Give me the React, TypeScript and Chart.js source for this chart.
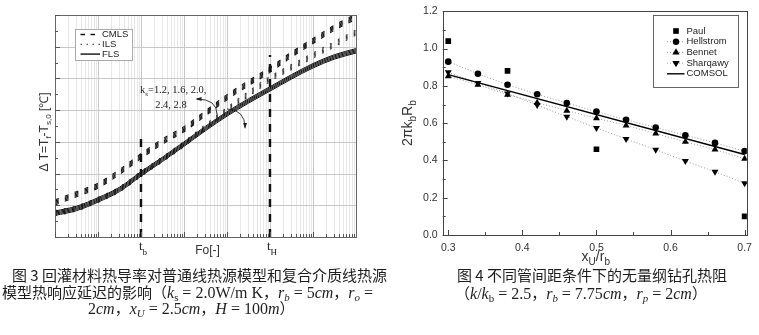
import React, { useEffect, useRef } from "react";
import { Chart, registerables } from "chart.js";

Chart.register(...registerables);

// ---------------- Fig. 3 (left) data ----------------
// Fourier number sample points (half-decade steps)
const FO = [1, 3.162, 10, 31.62, 100, 316.2, 1000, 3162, 10000, 31623, 100000, 316228, 1000000, 3162278, 10000000];
const KS = ["1.2", "1.6", "2.0", "2.4", "2.8"];

const CMLS_12 = [1.17, 1.43, 1.70, 2.13, 2.63, 3.09, 3.48, 3.98, 4.49, 4.93, 5.35, 5.83, 6.26, 6.68, 7.03];
const CMLS_16 = [1.13, 1.39, 1.66, 2.09, 2.59, 3.05, 3.44, 3.94, 4.45, 4.89, 5.31, 5.79, 6.22, 6.64, 6.99];
const CMLS_20 = [1.09, 1.35, 1.62, 2.05, 2.55, 3.01, 3.40, 3.90, 4.41, 4.85, 5.27, 5.75, 6.18, 6.60, 6.95];
const CMLS_24 = [1.05, 1.31, 1.58, 2.01, 2.51, 2.97, 3.36, 3.86, 4.37, 4.81, 5.23, 5.71, 6.14, 6.56, 6.91];
const CMLS_28 = [1.01, 1.27, 1.54, 1.97, 2.47, 2.93, 3.32, 3.82, 4.33, 4.77, 5.19, 5.67, 6.10, 6.52, 6.87];

const ILS_12 = [0.83, 0.98, 1.25, 1.58, 2.07, 2.53, 3.01, 3.55, 4.08, 4.59, 5.06, 5.44, 5.80, 6.16, 6.53];
const ILS_16 = [0.79, 0.94, 1.21, 1.54, 2.03, 2.49, 2.97, 3.51, 4.04, 4.55, 5.02, 5.40, 5.76, 6.12, 6.49];
const ILS_20 = [0.75, 0.90, 1.17, 1.50, 1.99, 2.45, 2.93, 3.47, 4.00, 4.51, 4.98, 5.36, 5.72, 6.08, 6.45];
const ILS_24 = [0.71, 0.86, 1.13, 1.46, 1.95, 2.41, 2.89, 3.43, 3.96, 4.47, 4.94, 5.32, 5.68, 6.04, 6.41];
const ILS_28 = [0.67, 0.82, 1.09, 1.42, 1.91, 2.37, 2.85, 3.39, 3.92, 4.43, 4.90, 5.28, 5.64, 6.00, 6.37];

const FLS_12 = [0.82, 0.97, 1.24, 1.57, 2.06, 2.52, 3.00, 3.49, 3.95, 4.36, 4.74, 5.12, 5.47, 5.75, 5.94];
const FLS_16 = [0.785, 0.935, 1.205, 1.535, 2.025, 2.485, 2.965, 3.455, 3.915, 4.325, 4.705, 5.085, 5.435, 5.715, 5.905];
const FLS_20 = [0.75, 0.90, 1.17, 1.50, 1.99, 2.45, 2.93, 3.42, 3.88, 4.29, 4.67, 5.05, 5.40, 5.68, 5.87];
const FLS_24 = [0.715, 0.865, 1.135, 1.465, 1.955, 2.415, 2.895, 3.385, 3.845, 4.255, 4.635, 5.015, 5.365, 5.645, 5.835];
const FLS_28 = [0.68, 0.83, 1.10, 1.43, 1.92, 2.38, 2.86, 3.35, 3.81, 4.22, 4.60, 4.98, 5.33, 5.61, 5.80];

const CMLS = [CMLS_12, CMLS_16, CMLS_20, CMLS_24, CMLS_28];
const ILS = [ILS_12, ILS_16, ILS_20, ILS_24, ILS_28];
const FLS = [FLS_12, FLS_16, FLS_20, FLS_24, FLS_28];

const FO_B = 100; // t_b
const FO_H = 100000; // t_H
const TB_LINE = [0, 3.16];
const TH_LINE = [0, 5.74];
const LEFT_Y_MAX = 7;

// ---------------- Fig. 4 (right) data ----------------
const XR = [0.30, 0.34, 0.38, 0.42, 0.46, 0.50, 0.54, 0.58, 0.62, 0.66, 0.70];
const PAUL_X = [0.30, 0.38, 0.50, 0.70];
const PAUL = [1.04, 0.88, 0.46, 0.10];
const HELLSTROM = [0.93, 0.865, 0.806, 0.755, 0.708, 0.662, 0.618, 0.577, 0.535, 0.494, 0.45];
const BENNET = [0.852, 0.806, 0.753, 0.71, 0.667, 0.626, 0.588, 0.544, 0.50, 0.459, 0.409];
const SHARQAWY = [0.873, 0.815, 0.759, 0.697, 0.635, 0.574, 0.515, 0.457, 0.397, 0.339, 0.277];
const COMSOL_X = [0.30, 0.70];
const COMSOL = [0.86, 0.432];
const XR_TICKS = [0.3, 0.4, 0.5, 0.6, 0.7];
const YR_TICKS = [0.0, 0.2, 0.4, 0.6, 0.8, 1.0, 1.2];

const SANS = '"Liberation Sans", Arial, sans-serif';
const SERIF = '"Liberation Serif", "Times New Roman", serif';
Chart.defaults.font.family = SANS;

type Part = { t: string; sub?: boolean; italic?: boolean };

function drawRich(
  ctx: CanvasRenderingContext2D,
  parts: Part[],
  x: number,
  y: number,
  size: number,
  family: string,
  align: "left" | "center",
  color: string,
  rotate = 0,
  subShift = 0.35
) {
  ctx.save();
  ctx.translate(x, y);
  if (rotate) ctx.rotate(rotate);
  const fontFor = (p: Part) =>
    `${p.italic ? "italic " : ""}${p.sub ? Math.round(size * 0.7) : size}px ${family}`;
  let total = 0;
  for (const p of parts) {
    ctx.font = fontFor(p);
    total += ctx.measureText(p.t).width;
  }
  let cx = align === "center" ? -total / 2 : 0;
  ctx.textBaseline = "middle";
  ctx.textAlign = "left";
  ctx.fillStyle = color;
  for (const p of parts) {
    ctx.font = fontFor(p);
    ctx.fillText(p.t, cx, p.sub ? size * subShift : 0);
    cx += ctx.measureText(p.t).width;
  }
  ctx.restore();
}

function seg(ctx: CanvasRenderingContext2D, x1: number, y1: number, x2: number, y2: number, color: string, w = 1, dash: number[] = []) {
  ctx.save();
  ctx.strokeStyle = color;
  ctx.lineWidth = w;
  ctx.setLineDash(dash);
  ctx.beginPath();
  ctx.moveTo(x1, y1);
  ctx.lineTo(x2, y2);
  ctx.stroke();
  ctx.restore();
}

function curvedArrow(ctx: CanvasRenderingContext2D, s: number[], c: number[], e: number[]) {
  ctx.save();
  ctx.strokeStyle = "#222";
  ctx.fillStyle = "#222";
  ctx.lineWidth = 0.9;
  ctx.beginPath();
  ctx.moveTo(s[0], s[1]);
  ctx.quadraticCurveTo(c[0], c[1], e[0], e[1]);
  ctx.stroke();
  const ang = Math.atan2(e[1] - c[1], e[0] - c[0]);
  const L = 5;
  ctx.beginPath();
  ctx.moveTo(e[0] + Math.cos(ang) * 1.5, e[1] + Math.sin(ang) * 1.5);
  ctx.lineTo(e[0] - Math.cos(ang - 0.4) * L, e[1] - Math.sin(ang - 0.4) * L);
  ctx.lineTo(e[0] - Math.cos(ang + 0.4) * L, e[1] - Math.sin(ang + 0.4) * L);
  ctx.closePath();
  ctx.fill();
  ctx.restore();
}

function marker(ctx: CanvasRenderingContext2D, kind: string, x: number, y: number, r: number) {
  ctx.save();
  ctx.fillStyle = "#000";
  ctx.beginPath();
  if (kind === "rect") {
    const s = r * Math.SQRT1_2;
    ctx.rect(x - s, y - s, 2 * s, 2 * s);
  } else if (kind === "circle") {
    ctx.arc(x, y, r, 0, Math.PI * 2);
  } else if (kind === "up") {
    ctx.moveTo(x, y - r);
    ctx.lineTo(x + r * 0.866, y + r * 0.5);
    ctx.lineTo(x - r * 0.866, y + r * 0.5);
  } else {
    ctx.moveTo(x, y + r);
    ctx.lineTo(x + r * 0.866, y - r * 0.5);
    ctx.lineTo(x - r * 0.866, y - r * 0.5);
  }
  ctx.closePath();
  ctx.fill();
  ctx.restore();
}

const leftPlugin = {
  id: "leftDeco",
  beforeDatasetsDraw(chart: any) {
    const { ctx, chartArea: a, scales } = chart;
    const xs = scales.x;
    const ys = scales.y;
    for (let e = 0; e < 7; e++) {
      for (let m = 2; m <= 9; m++) {
        const px = Math.round(xs.getPixelForValue(m * Math.pow(10, e))) + 0.5;
        seg(ctx, px, a.top, px, a.bottom, "#e8e8e8");
      }
    }
    for (let e = 1; e < 7; e++) {
      const px = Math.round(xs.getPixelForValue(Math.pow(10, e))) + 0.5;
      seg(ctx, px, a.top, px, a.bottom, "#c8c8c8");
    }
    for (let v = 1; v < LEFT_Y_MAX; v++) {
      const py = Math.round(ys.getPixelForValue(v)) + 0.5;
      seg(ctx, a.left, py, a.right, py, "#c8c8c8");
    }
  },
  afterDatasetsDraw(chart: any) {
    const { ctx, chartArea: a, scales } = chart;
    const xs = scales.x;
    const ys = scales.y;
    // frame
    ctx.save();
    ctx.strokeStyle = "#666";
    ctx.lineWidth = 1;
    ctx.strokeRect(Math.round(a.left) + 0.5, Math.round(a.top) + 0.5, Math.round(a.right - a.left), Math.round(a.bottom - a.top));
    ctx.restore();
    // inside ticks
    for (let e = 0; e < 7; e++) {
      for (let m = 1; m <= 9; m++) {
        const px = Math.round(xs.getPixelForValue(m * Math.pow(10, e))) + 0.5;
        seg(ctx, px, a.bottom, px, a.bottom - (m === 1 ? 5 : 3), "#555");
      }
    }
    for (let v = 0; v <= LEFT_Y_MAX; v += 0.5) {
      const py = Math.round(ys.getPixelForValue(v)) + 0.5;
      seg(ctx, a.left, py, a.left + (v % 1 === 0 ? 5 : 3), py, "#555");
    }
    // tick labels t_b, t_H
    drawRich(ctx, [{ t: "t" }, { t: "b", sub: true }], xs.getPixelForValue(FO_B) + 2, a.bottom + 10, 13, SERIF, "center", "#222", 0, 0.45);
    drawRich(ctx, [{ t: "t" }, { t: "H", sub: true }], xs.getPixelForValue(FO_H) + 2, a.bottom + 10, 13, SERIF, "center", "#222", 0, 0.45);
    // axis titles
    drawRich(ctx, [{ t: "Fo[-]" }], (a.left + a.right) / 2 + 2, a.bottom + 14, 12, SANS, "center", "#333");
    drawRich(
      ctx,
      [{ t: "\u0394 T=T" }, { t: "f", sub: true }, { t: "-T" }, { t: "s,0", sub: true }, { t: " [\u2103]" }],
      a.left - 10,
      (a.top + a.bottom) / 2 + 6,
      12,
      SANS,
      "center",
      "#333",
      -Math.PI / 2
    );
    // legend
    ctx.save();
    ctx.fillStyle = "#fff";
    ctx.fillRect(75.5, 29.5, 57, 31);
    ctx.strokeStyle = "#aaa";
    ctx.lineWidth = 1;
    ctx.strokeRect(75.5, 29.5, 57, 31);
    ctx.restore();
    const lg = [
      { label: "CMLS", dash: [4.5, 5.5], color: "#111", w: 1.3 },
      { label: "ILS", dash: [1.5, 4.5], color: "#555", w: 1.2 },
      { label: "FLS", dash: [], color: "#111", w: 1.4 },
    ];
    lg.forEach((it, i) => {
      const y = 34.5 + i * 9.8;
      seg(ctx, 80.5, y, 100, y, it.color, it.w, it.dash);
      ctx.save();
      ctx.font = `9.5px ${SANS}`;
      ctx.fillStyle = "#222";
      ctx.textBaseline = "middle";
      ctx.fillText(it.label, 102, y);
      ctx.restore();
    });
    // annotation
    const P = (lg10: number, v: number) => [xs.getPixelForValue(Math.pow(10, lg10)), ys.getPixelForValue(v)];
    const t1 = P(1.977, 4.62);
    const t2 = P(2.33, 4.15);
    drawRich(ctx, [{ t: "k" }, { t: "s", sub: true }, { t: "=" + KS.slice(0, 3).join(", ") + "," }], t1[0], t1[1], 10.5, SERIF, "left", "#222");
    drawRich(ctx, [{ t: KS.slice(3).join(", ") }], t2[0], t2[1], 10.5, SERIF, "left", "#222");
    curvedArrow(ctx, P(3.77, 3.85), P(3.77, 4.35), P(3.30, 4.35));
    curvedArrow(ctx, P(4.0, 4.04), P(4.42, 4.01), P(4.42, 3.45));
  },
};

const rightPlugin = {
  id: "rightDeco",
  afterDatasetsDraw(chart: any) {
    const { ctx, chartArea: a, scales } = chart;
    const xs = scales.x;
    const ys = scales.y;
    ctx.save();
    ctx.strokeStyle = "#444";
    ctx.lineWidth = 1;
    ctx.strokeRect(Math.round(a.left) + 0.5, Math.round(a.top) + 0.5, Math.round(a.right - a.left), Math.round(a.bottom - a.top));
    ctx.restore();
    for (let i = 0; i <= 8; i++) {
      const v = 0.3 + i * 0.05;
      const px = Math.round(xs.getPixelForValue(v)) + 0.5;
      seg(ctx, px, a.bottom, px, a.bottom - (i % 2 === 0 ? 5 : 3), "#444");
    }
    for (let i = 0; i <= 12; i++) {
      const v = i * 0.1;
      const py = Math.round(ys.getPixelForValue(v)) + 0.5;
      seg(ctx, a.left, py, a.left + (i % 2 === 0 ? 5 : 3), py, "#444");
    }
    drawRich(ctx, [{ t: "2\u03C0k" }, { t: "b", sub: true }, { t: "R" }, { t: "b", sub: true }], 28, (a.top + a.bottom) / 2, 14, SANS, "center", "#333", -Math.PI / 2);
    drawRich(ctx, [{ t: "x" }, { t: "U", sub: true }, { t: "/r" }, { t: "b", sub: true }], (a.left + a.right) / 2 + 1, 257, 14, SANS, "center", "#333");
    // legend
    ctx.save();
    ctx.fillStyle = "#fff";
    ctx.fillRect(273.5, 15.5, 85, 72);
    ctx.strokeStyle = "#666";
    ctx.strokeRect(273.5, 15.5, 85, 72);
    ctx.restore();
    const items = [
      { label: "Paul", kind: "rect", line: "none" },
      { label: "Hellstrom", kind: "circle", line: "dot" },
      { label: "Bennet", kind: "up", line: "dot" },
      { label: "Sharqawy", kind: "down", line: "dot" },
      { label: "COMSOL", kind: "none", line: "solid" },
    ];
    items.forEach((it, i) => {
      const y = 31 + i * 10.7;
      if (it.line === "dot") seg(ctx, 287, y, 305, y, "#999", 1, [1, 2]);
      if (it.line === "solid") seg(ctx, 287, y, 304.5, y, "#000", 1.4);
      if (it.kind === "rect") marker(ctx, "rect", 296, y, 4);
      if (it.kind === "circle") marker(ctx, "circle", 296, y, 3.2);
      if (it.kind === "up") marker(ctx, "up", 296, y, 4.2);
      if (it.kind === "down") marker(ctx, "down", 296, y, 4.2);
      ctx.save();
      ctx.font = `9.5px ${SANS}`;
      ctx.fillStyle = "#222";
      ctx.textBaseline = "middle";
      ctx.fillText(it.label, 306.5, y);
      ctx.restore();
    });
  },
};

function leftConfig(): any {
  const curve = (vals: number[], style: any, label: string) => ({
    label,
    data: FO.map((x, i) => ({ x, y: vals[i] })),
    pointRadius: 0,
    fill: false,
    cubicInterpolationMode: "monotone",
    ...style,
  });
  const datasets: any[] = [];
  FLS.forEach((v, i) => datasets.push(curve(v, { borderColor: "#111", borderWidth: 1.0 }, `FLS ks=${KS[i]}`)));
  ILS.forEach((v, i) => datasets.push(curve(v, { borderColor: "#333", borderWidth: 1.1, borderDash: [2, 7] }, `ILS ks=${KS[i]}`)));
  CMLS.forEach((v, i) => datasets.push(curve(v, { borderColor: "#111", borderWidth: 1.1, borderDash: [4, 6.5] }, `CMLS ks=${KS[i]}`)));
  datasets.push({
    label: "t_b",
    data: TB_LINE.map((y) => ({ x: FO_B, y })),
    borderColor: "#111",
    borderWidth: 2.4,
    borderDash: [8, 7],
    pointRadius: 0,
  });
  datasets.push({
    label: "t_H",
    data: TH_LINE.map((y) => ({ x: FO_H, y })),
    borderColor: "#111",
    borderWidth: 2.4,
    borderDash: [8, 7],
    pointRadius: 0,
  });
  return {
    type: "line",
    data: { datasets },
    options: {
      responsive: false,
      animation: false,
      layout: { padding: { top: 15, right: 24, left: 0, bottom: 0 } },
      plugins: { legend: { display: false }, tooltip: { enabled: false } },
      scales: {
        x: {
          type: "logarithmic",
          min: FO[0],
          max: FO[FO.length - 1],
          grid: { display: false, drawTicks: false },
          border: { display: false },
          ticks: { display: false },
          afterFit: (s: any) => {
            s.height = 28;
          },
        },
        y: {
          type: "linear",
          min: 0,
          max: LEFT_Y_MAX,
          grid: { display: false, drawTicks: false },
          border: { display: false },
          ticks: { display: false },
          afterFit: (s: any) => {
            s.width = 55;
          },
        },
      },
    },
    plugins: [leftPlugin],
  };
}

function rightConfig(): any {
  const pts = (xs: number[], ys: number[]) => xs.map((x, i) => ({ x, y: ys[i] }));
  const dotted = { borderColor: "#9a9a9a", borderWidth: 1, borderDash: [1, 2] };
  const mk = { pointBackgroundColor: "#000", pointBorderColor: "#000", pointBorderWidth: 0 };
  return {
    type: "line",
    data: {
      datasets: [
        { label: "COMSOL", data: pts(COMSOL_X, COMSOL), borderColor: "#000", borderWidth: 1.4, pointRadius: 0 },
        { label: "Hellstrom", data: pts(XR, HELLSTROM), ...dotted, ...mk, pointStyle: "circle", pointRadius: 3.3 },
        { label: "Bennet", data: pts(XR, BENNET), ...dotted, ...mk, pointStyle: "triangle", pointRadius: 4.0 },
        { label: "Sharqawy", data: pts(XR, SHARQAWY), ...dotted, ...mk, pointStyle: "triangle", pointRotation: 180, pointRadius: 4.0 },
        { label: "Paul", data: pts(PAUL_X, PAUL), showLine: false, ...mk, pointStyle: "rect", pointRadius: 4.0 },
      ],
    },
    options: {
      responsive: false,
      animation: false,
      layout: { padding: { top: 8, right: 10, left: 0, bottom: 0 } },
      plugins: { legend: { display: false }, tooltip: { enabled: false } },
      scales: {
        x: {
          type: "linear",
          min: 0.2925,
          max: 0.703,
          afterBuildTicks: (s: any) => {
            s.ticks = XR_TICKS.map((v) => ({ value: v }));
          },
          ticks: {
            callback: (v: any) => Number(v).toFixed(1),
            font: { family: SANS, size: 10.5 },
            color: "#333",
            padding: 7,
            maxRotation: 0,
            autoSkip: false,
          },
          grid: { display: false, drawTicks: false },
          border: { display: false },
          afterFit: (s: any) => {
            s.height = 30;
          },
        },
        y: {
          type: "linear",
          min: 0,
          max: 1.2,
          afterBuildTicks: (s: any) => {
            s.ticks = YR_TICKS.map((v) => ({ value: v }));
          },
          ticks: {
            callback: (v: any) => Number(v).toFixed(1),
            font: { family: SANS, size: 10.5 },
            color: "#333",
            padding: 5,
            autoSkip: false,
          },
          grid: { display: false, drawTicks: false },
          border: { display: false },
          afterFit: (s: any) => {
            s.width = 62.7;
          },
        },
      },
    },
    plugins: [rightPlugin],
  };
}

const CJK = '"Noto Sans CJK SC", "Noto Sans CJK JP", sans-serif';
const MATH = '"Liberation Serif", "DejaVu Serif", serif';

const Sub = ({ children }: { children: React.ReactNode }) => (
  <span style={{ fontSize: "0.68em", position: "relative", top: "0.3em" }}>{children}</span>
);
const M = ({ children }: { children: React.ReactNode }) => (
  <span style={{ fontFamily: MATH, fontSize: 16 }}>{children}</span>
);

const capStyle = (left: number, top: number): React.CSSProperties => ({
  position: "absolute",
  left,
  top,
  whiteSpace: "nowrap",
  fontFamily: CJK,
  fontSize: 15,
  lineHeight: "18px",
  color: "#1e1e1e",
});

export default function App() {
  const leftRef = useRef<HTMLCanvasElement>(null);
  const rightRef = useRef<HTMLCanvasElement>(null);

  useEffect(() => {
    const c1 = new Chart(leftRef.current as HTMLCanvasElement, leftConfig());
    const c2 = new Chart(rightRef.current as HTMLCanvasElement, rightConfig());
    return () => {
      c1.destroy();
      c2.destroy();
    };
  }, []);

  return (
    <div style={{ position: "absolute", left: 0, top: 0, width: 759, height: 335, background: "#fff", overflow: "hidden" }}>
      <canvas ref={leftRef} width={380} height={265} style={{ position: "absolute", left: 0, top: 0 }} />
      <canvas ref={rightRef} width={379} height={265} style={{ position: "absolute", left: 380, top: 0 }} />

      <div style={capStyle(12, 266)}>图 3 回灌材料热导率对普通线热源模型和复合介质线热源</div>
      <div style={capStyle(2, 283)}>
        模型热响应延迟的影响（
        <M>
          <i>k</i>
          <Sub>s</Sub> = 2.0W/m K
        </M>
        ，
        <M>
          <i>r</i>
          <Sub>
            <i>b</i>
          </Sub>{" "}
          = 5<i>cm</i>
        </M>
        ，
        <M>
          <i>r</i>
          <Sub>
            <i>o</i>
          </Sub>{" "}
          =
        </M>
      </div>
      <div style={capStyle(88, 299)}>
        <M>
          2<i>cm</i>
        </M>
        ，
        <M>
          <i>x</i>
          <Sub>
            <i>U</i>
          </Sub>{" "}
          = 2.5<i>cm</i>
        </M>
        ，
        <M>
          <i>H</i> = 100<i>m</i>
        </M>
        ）
      </div>

      <div style={capStyle(457, 266)}>图 4 不同管间距条件下的无量纲钻孔热阻</div>
      <div style={capStyle(455, 284)}>
        （
        <M>
          <i>k</i>/<i>k</i>
          <Sub>b</Sub> = 2.5
        </M>
        ，
        <M>
          <i>r</i>
          <Sub>
            <i>b</i>
          </Sub>{" "}
          = 7.75<i>cm</i>
        </M>
        ，
        <M>
          <i>r</i>
          <Sub>
            <i>p</i>
          </Sub>{" "}
          = 2<i>cm</i>
        </M>
        ）
      </div>
    </div>
  );
}
